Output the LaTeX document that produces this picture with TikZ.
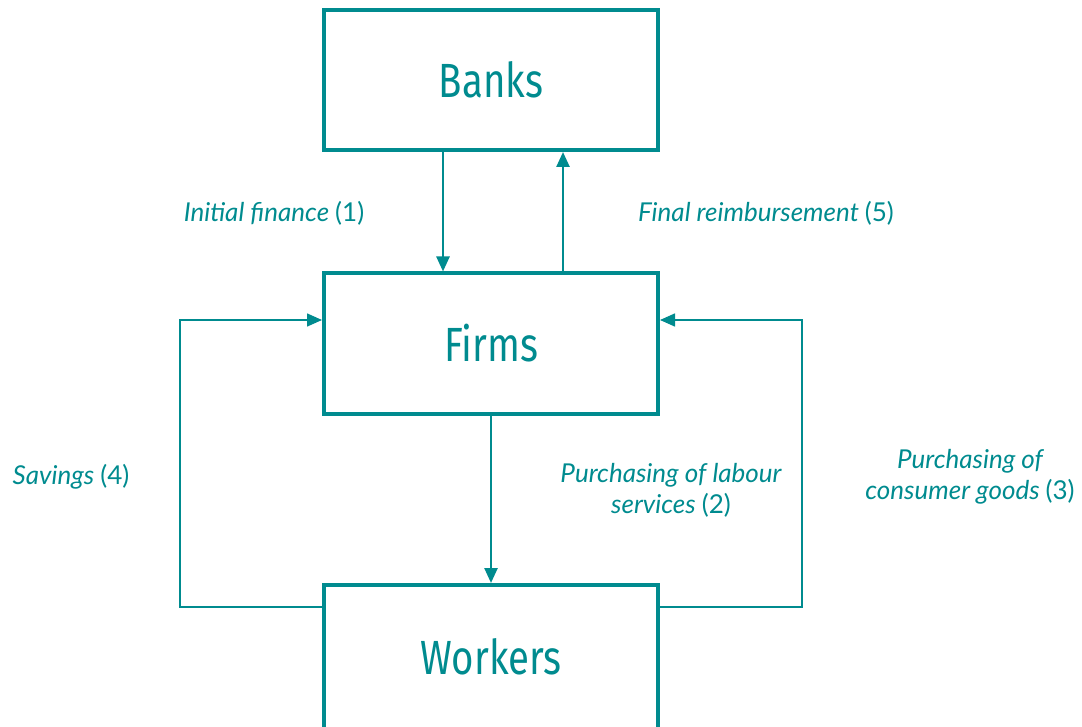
\documentclass[tikz,border=0pt]{standalone}
\usepackage{fontspec}
\setmainfont{Lato}
\newfontfamily\titlefont[FakeStretch=0.8]{Fira Sans}
\usetikzlibrary{arrows.meta}
\definecolor{teal1}{RGB}{0,139,143}
\tikzset{
  box/.style={draw=teal1, line width=4pt, minimum width=334pt, minimum height=140pt, inner sep=0pt},
  title/.style={text=teal1, font=\titlefont\fontsize{48}{52}\selectfont},
  lbl/.style={text=teal1, font=\fontsize{26}{31}\selectfont, align=center},
  flow/.style={draw=teal1, line width=2.5pt, -{Triangle[length=15pt,width=13pt]}},
  loop/.style={draw=teal1, line width=1.5pt, -{Triangle[length=15pt,width=13pt]}},
}
\begin{document}
\begin{tikzpicture}[x=1pt,y=-1pt]
\useasboundingbox (0,0) rectangle (1082,727);
\begin{scope}
\clip (0,0) rectangle (1082,727);
\node[box] (banks) at (491,80) {};
\node[title] at (491,80) {Banks};
\node[box] (firms) at (491,343.5) {};
\node[title] at (491,343.5) {Firms};
\node[box, minimum height=150pt] (workers) at (491,660) {};
\node[title] at (491,657) {Workers};
\coordinate (bd) at (443,152);
\coordinate (fd) at (443,272);
\coordinate (fu) at (563,272);
\coordinate (bu) at (563,152);
\draw[flow] (banks.south -| bd) -- (firms.north -| fd);
\draw[flow] (firms.north -| fu) -- (banks.south -| bu);
\draw[flow] (firms.south) -- (workers.north);
\coordinate (wl) at (322,607);
\coordinate (fl) at (322,320);
\coordinate (wr) at (660,607);
\coordinate (fr) at (660,320);
\draw[loop] (workers.west |- wl) -- (180,607) -- (180,320) -- (firms.west |- fl);
\draw[loop] (workers.east |- wr) -- (802,607) -- (802,320) -- (firms.east |- fr);
\end{scope}
\node[lbl] (l1) at (274,213) {\itshape Initial finance \upshape(1)};
\node[lbl] (l5) at (766,213) {\itshape Final reimbursement \upshape(5)};
\node[lbl] (l4) at (71,477) {\itshape Savings \upshape(4)};
\node[lbl] (l2) at (671,490) {\itshape Purchasing of labour\\ \itshape services \upshape(2)};
\node[lbl] (l3) at (970,477) {\itshape Purchasing of\\ \itshape consumer goods \upshape(3)};
\end{tikzpicture}
\end{document}
